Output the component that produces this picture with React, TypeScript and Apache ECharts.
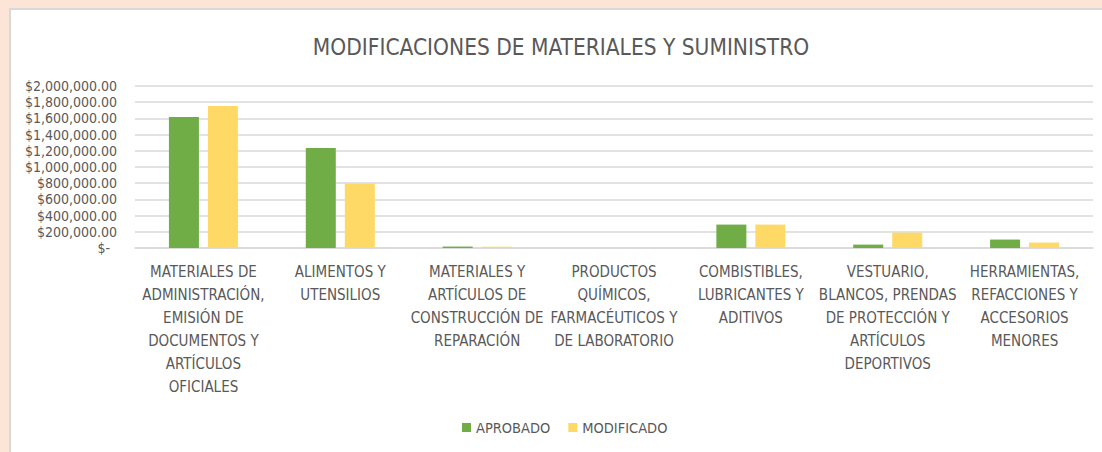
import React, { useEffect, useRef } from "react";
import * as echarts from "echarts";

const categories: string[] = [
  "MATERIALES DE\nADMINISTRACIÓN,\nEMISIÓN DE\nDOCUMENTOS Y\nARTÍCULOS\nOFICIALES",
  "ALIMENTOS Y\nUTENSILIOS",
  "MATERIALES Y\nARTÍCULOS DE\nCONSTRUCCIÓN DE\nREPARACIÓN",
  "PRODUCTOS\nQUÍMICOS,\nFARMACÉUTICOS Y\nDE LABORATORIO",
  "COMBISTIBLES,\nLUBRICANTES Y\nADITIVOS",
  "VESTUARIO,\nBLANCOS, PRENDAS\nDE PROTECCIÓN Y\nARTÍCULOS\nDEPORTIVOS",
  "HERRAMIENTAS,\nREFACCIONES Y\nACCESORIOS\nMENORES",
];

const aprobado: number[] = [1617000, 1235000, 18000, 0, 289000, 42000, 104000];
const modificado: number[] = [1753000, 795000, 16000, 0, 289000, 190000, 67000];

const seriesNames: string[] = ["APROBADO", "MODIFICADO"];
const titleText = "MODIFICACIONES DE MATERIALES Y SUMINISTRO";

const FONT = '"DejaVu Sans Condensed", "Liberation Sans", sans-serif';
const TEXT = "#595959";

function fmtMoney(v: number): string {
  if (v === 0) return "{z|$-}";
  const s = v.toFixed(2);
  const [i, d] = s.split(".");
  return "$" + i.replace(/\B(?=(\d{3})+(?!\d))/g, ",") + "." + d;
}

export default function App() {
  const ref = useRef<HTMLDivElement>(null);
  useEffect(() => {
    if (!ref.current) return;
    const chart = echarts.init(ref.current, null, { renderer: "svg" });
    chart.setOption({
      animation: false,
      textStyle: { fontFamily: FONT },
      title: {
        text: titleText,
        left: 556,
        top: 30,
        textAlign: "center",
        textStyle: { fontFamily: FONT, fontSize: 22.5, fontWeight: "normal", color: TEXT },
      },
      legend: {
        data: seriesNames,
        left: 457,
        top: 415,
        icon: "rect",
        itemWidth: 9,
        itemHeight: 9,
        itemGap: 18,
        textStyle: { fontFamily: FONT, fontSize: 14.5, color: TEXT },
      },
      grid: { left: 135, right: 9, top: 86, bottom: 204, containLabel: false },
      xAxis: {
        type: "category",
        data: categories,
        axisLine: { show: true, lineStyle: { color: "#D9D9D9", width: 1.5 } },
        axisTick: { show: false },
        axisLabel: {
          interval: 0,
          margin: 12,
          fontFamily: FONT,
          fontSize: 15,
          lineHeight: 23,
          color: TEXT,
          align: "center",
          verticalAlign: "top",
        },
      },
      yAxis: {
        type: "value",
        min: 0,
        max: 2000000,
        interval: 200000,
        axisLine: { show: false },
        axisTick: { show: false },
        splitLine: { lineStyle: { color: "#D9D9D9", width: 1.5 } },
        axisLabel: {
          margin: 18,
          fontFamily: FONT,
          fontSize: 14,
          lineHeight: 16,
          color: TEXT,
          formatter: (v: number) => fmtMoney(v),
          rich: { z: { fontFamily: FONT, fontSize: 14, color: TEXT, padding: [0, 7, 0, 0] } },
        },
      },
      series: [
        {
          name: seriesNames[0],
          type: "bar",
          data: aprobado,
          barWidth: 30,
          barGap: "30%",
          itemStyle: { color: "#70AD47" },
        },
        {
          name: seriesNames[1],
          type: "bar",
          data: modificado,
          barWidth: 30,
          itemStyle: { color: "#FFD966" },
        },
      ],
    });
    return () => chart.dispose();
  }, []);

  return (
    <div style={{ position: "fixed", left: 0, top: 0, width: 1102, height: 452, background: "#FCE4D6", overflow: "hidden" }}>
      <div
        style={{
          position: "absolute",
          left: 9,
          top: 8,
          width: 1102,
          height: 452,
          background: "#ffffff",
          borderLeft: "2px solid #D9D9D9",
          borderTop: "2px solid #D9D9D9",
        }}
      />
      <div ref={ref} style={{ position: "absolute", left: 0, top: 0, width: 1102, height: 452 }} />
    </div>
  );
}
